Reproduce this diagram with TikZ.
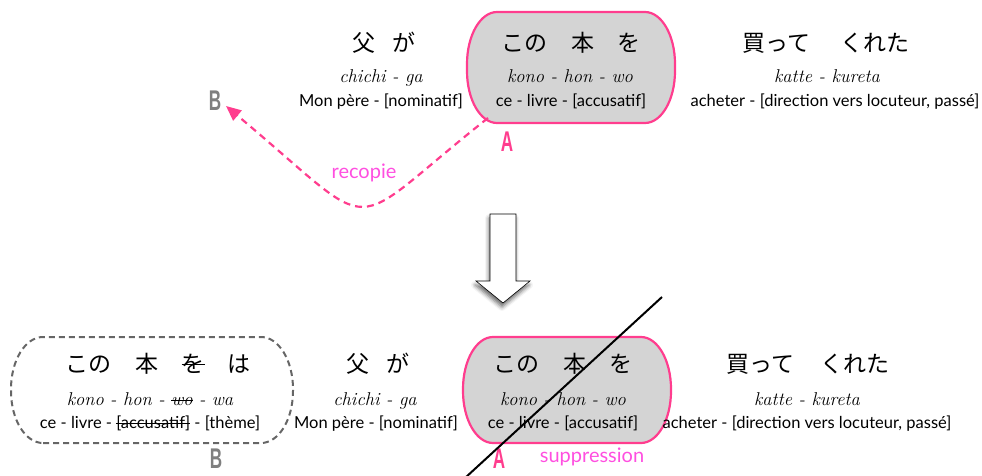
\documentclass[tikz,border=0pt]{standalone}
\usepackage{fontspec}
\usepackage{graphicx}
\setsansfont{Lato}
\newfontfamily\jpfont{Noto Sans CJK JP}
\newfontfamily\lblfont{Liberation Sans}
\usetikzlibrary{arrows.meta,shadows.blur}

\definecolor{hotpink}{HTML}{FF3D8E}
\definecolor{magtext}{HTML}{FF4FE0}
\definecolor{boxgray}{HTML}{D4D4D4}
\definecolor{lblgray}{HTML}{7F7F7F}
\definecolor{dashgray}{HTML}{666666}

\newcommand\stk[2]{\setbox0\hbox{#2}\rlap{\rule[#1]{\wd0}{0.9pt}}\box0\relax}
\newcommand\cond[1]{\scalebox{0.6}[1]{#1}}
\newcommand\roundpanel[7]{%
  \draw[#1] ({#2+#6},#3) -- ({#4-#6},#3)
    arc[start angle=-90,end angle=0,x radius=#6pt,y radius=#7pt] -- (#4,{#5-#7})
    arc[start angle=0,end angle=90,x radius=#6pt,y radius=#7pt] -- ({#2+#6},#5)
    arc[start angle=90,end angle=180,x radius=#6pt,y radius=#7pt] -- (#2,{#3+#7})
    arc[start angle=180,end angle=270,x radius=#6pt,y radius=#7pt] -- cycle;}

\tikzset{
  jtext/.style={font=\jpfont\fontsize{23}{23}\selectfont, inner sep=0pt},
  rtext/.style={font=\rmfamily\itshape\fontsize{18.5}{18.5}\selectfont, inner sep=0pt, anchor=base},
  ftext/.style={font=\sffamily\fontsize{16.5}{16.5}\selectfont, inner sep=0pt, anchor=base},
  lblA/.style={text=hotpink, font=\lblfont\bfseries\fontsize{28.5}{28.5}\selectfont, inner sep=0pt},
  lblB/.style={text=lblgray, font=\lblfont\bfseries\fontsize{28.5}{28.5}\selectfont, inner sep=0pt},
  note/.style={text=magtext, font=\sffamily\fontsize{20}{20}\selectfont, inner sep=0pt, anchor=base},
  pinkbox/.style={draw=hotpink, line width=2.2pt, fill=boxgray},
  graybox/.style={draw=dashgray, line width=2pt, dash pattern=on 6pt off 4pt},
  copyarrow/.style={draw=hotpink, line width=2.2pt, dash pattern=on 7pt off 5pt,
    -{Triangle[length=15pt,width=13pt]}},
  cutline/.style={draw=black, line width=2pt},
  bigarrow/.style={draw=black, line width=0.6pt, fill=white,
    blur shadow={shadow xshift=-1pt, shadow yshift=-4pt, shadow blur radius=4pt, shadow opacity=60}},
}

\begin{document}
\begin{tikzpicture}[x=1pt,y=1pt]
\useasboundingbox (0,0) rectangle (982,475);

% ---------- top sentence ----------
\roundpanel{pinkbox}{467}{352}{675}{463}{30}{52}

\node[jtext] (tj1) at (384,432) {父\hspace{0.75em}が};
\node[rtext] (tr1) at (381,392) {chichi - ga};
\node[ftext] (tf1) at (381,368) {Mon père - [nominatif]};

\node[jtext] (tj2) at (571,432) {この\hspace{1.05em}本\hspace{1em}を};
\node[rtext] (tr2) at (570,392) {kono - hon - wo};
\node[ftext] (tf2) at (571,368) {ce - livre - [accusatif]};

\node[jtext] (tj3) at (826,432) {買って\hspace{1.3em}くれた};
\node[rtext] (tr3) at (827,392) {katte - kureta};
\node[ftext] (tf3) at (835,368) {acheter - [direction vers locuteur, passé]};

\node[lblA] (tA) at (507,333) {\cond{A}};
\node[lblB] (tB) at (215,374) {\cond{B}};

\coordinate (recStart) at (488,357);
\coordinate (recEnd) at (226,369);
\draw[copyarrow] (recStart) .. controls (340,240) and (385,236) .. (recEnd);
\node[note] (recopie) at (364,297) {recopie};

% ---------- block arrow ----------
\path[bigarrow] (490,261) -- (516,261) -- (516,194) -- (530,194) -- (503,172)
  -- (476,194) -- (490,194) -- cycle;

% ---------- bottom sentence ----------
\roundpanel{graybox}{11}{32}{293}{138}{32}{52}
\roundpanel{pinkbox}{463}{32}{671}{138}{30}{52}

\node[jtext] (bj0) at (158,111) {この\hspace{1.05em}本\hspace{1em}\stk{0.33em}{を}\hspace{1em}は};
\node[rtext] (br0) at (150,70) {kono - hon - \stk{0.2em}{wo} - wa};
\node[ftext] (bf0) at (150,47) {ce - livre - \stk{0.27em}{[accusatif]} - [thème]};

\node[jtext] (bj1) at (378,111) {父\hspace{0.75em}が};
\node[rtext] (br1) at (375,70) {chichi - ga};
\node[ftext] (bf1) at (376,47) {Mon père - [nominatif]};

\node[jtext] (bj2) at (563,111) {この\hspace{1.05em}本\hspace{1em}を};
\node[rtext] (br2) at (563,70) {kono - hon - wo};
\node[ftext] (bf2) at (563,47) {ce - livre - [accusatif]};

\node[jtext] (bj3) at (808,111) {買って\hspace{1.1em}くれた};
\node[rtext] (br3) at (807,70) {katte - kureta};
\node[ftext] (bf3) at (807,47) {acheter - [direction vers locuteur, passé]};

\node[lblB] (bB) at (216,16) {\cond{B}};
\node[lblA] (bA) at (499,16) {\cond{A}};
\node[note] (suppr) at (592,13) {suppression};

\coordinate (cutLow) at (465,-3);
\coordinate (cutHigh) at (662,178);
\draw[cutline] (cutLow) -- (cutHigh);
\end{tikzpicture}
\end{document}
